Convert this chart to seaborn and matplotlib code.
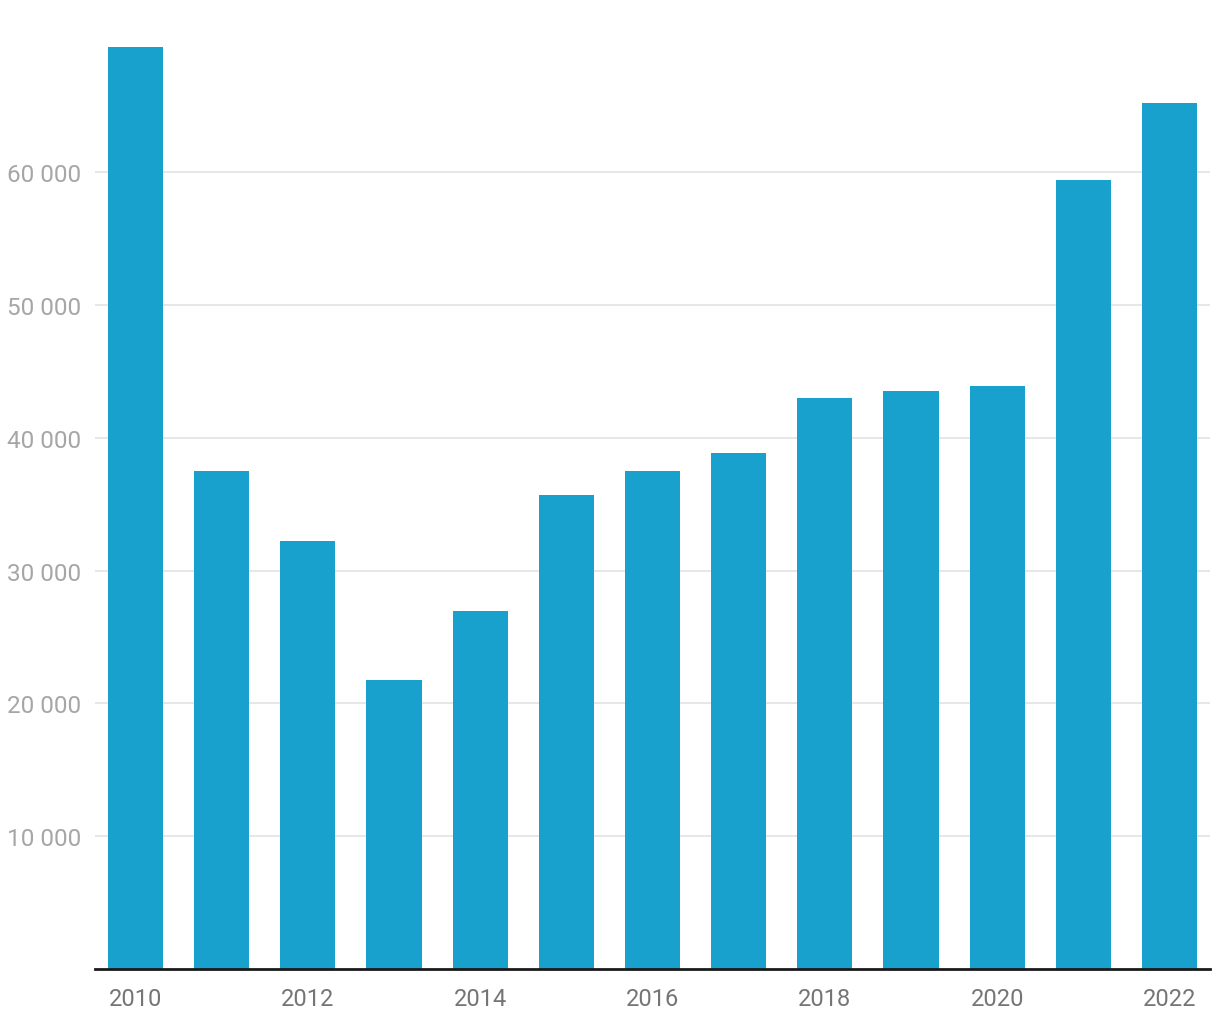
import matplotlib
import numpy as np
import pandas as pd

matplotlib.use("Agg")
import matplotlib.pyplot as plt  # noqa: E402
import seaborn as sns  # noqa: E402

years = [2010, 2011, 2012, 2013, 2014, 2015, 2016, 2017, 2018, 2019, 2020, 2021, 2022]
values = [69450, 37500, 32200, 21800, 26950, 35700, 37500, 38850, 43000, 43500,
          43900, 59450, 65250]
y_ticks = [10000, 20000, 30000, 40000, 50000, 60000]
x_tick_years = [2010, 2012, 2014, 2016, 2018, 2020, 2022]

BAR = "#19a1cd"

sns.set_theme(style="white")
plt.rcParams["font.family"] = ["Roboto", "DejaVu Sans"]

df = pd.DataFrame({"year": [str(y) for y in years], "value": values})

fig = plt.figure(figsize=(12.2, 10.2), dpi=100)
ax = fig.add_axes([95 / 1220, 1 - 970 / 1020, 1115 / 1220, 960 / 1020])

sns.barplot(data=df, x="year", y="value", color=BAR, width=0.64,
            saturation=1, linewidth=0, ax=ax, zorder=3)

ax.set_xlim(-0.47, len(years) - 0.53)
ax.set_ylim(0, 72300)
ax.set_yticks(y_ticks)
ax.set_yticklabels([f"{v:,}".replace(",", " ") for v in y_ticks])
ax.grid(axis="y", color="#e3e3e3", linewidth=1.2, zorder=0)

pos = [years.index(y) for y in x_tick_years]
ax.set_xticks(pos)
ax.set_xticklabels([str(y) for y in x_tick_years])

ax.tick_params(axis="y", length=0, pad=10, labelsize=17.5, labelcolor="#a6a6a6")
ax.tick_params(axis="x", length=0, pad=13, labelsize=17, labelcolor="#757575")
ax.set_xlabel("")
ax.set_ylabel("")

for side in ["top", "right", "left"]:
    ax.spines[side].set_visible(False)
ax.spines["bottom"].set_color("#1a1a1a")
ax.spines["bottom"].set_linewidth(2)
ax.spines["bottom"].set_zorder(5)

fig.savefig("out.png", dpi=100)
